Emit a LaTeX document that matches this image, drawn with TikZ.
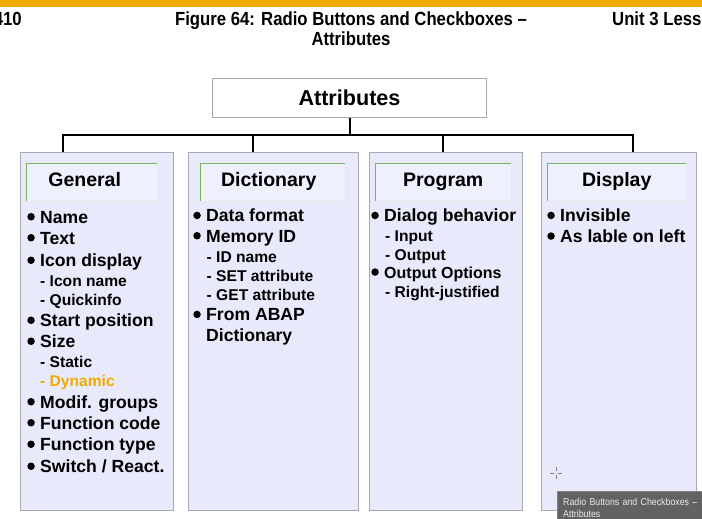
\documentclass[tikz,border=0pt]{standalone}
\usepackage{fontspec}
\setmainfont{Liberation Sans}
\newfontfamily\headfont[FakeStretch=0.88]{Liberation Sans}
\usetikzlibrary{positioning,calc}
\definecolor{SapGold}{RGB}{240,171,0}
\definecolor{PaleLilac}{RGB}{232,234,251}
\definecolor{HeadLilac}{RGB}{238,240,253}
\definecolor{FrameGray}{RGB}{168,168,176}
\definecolor{TabGreen}{RGB}{122,178,96}
\definecolor{TipGray}{RGB}{98,98,98}
\tikzset{
  column/.style={draw=FrameGray,fill=PaleLilac,line width=1pt,anchor=north west,
    minimum height=358pt,inner sep=0pt},
  tab/.style={fill=HeadLilac,anchor=north west,minimum height=38pt,inner sep=0pt},
  tabtext/.style={anchor=base,inner sep=0pt,font=\bfseries\fontsize{19.5}{22}\selectfont},
  dot/.style={circle,fill=black,inner sep=0pt,text height=0pt,text depth=0pt,
    minimum size=7.5pt},
  entry/.style={anchor=base west,inner sep=0pt,font=\bfseries\fontsize{17.6}{20}\selectfont},
  item/.style={entry,text height=12.5pt,text depth=0pt,
    label={[dot,label distance=5pt]left:{}}},
  subitem/.style={anchor=base west,inner sep=0pt,font=\bfseries\fontsize{15.6}{18}\selectfont},
  hdr/.style={inner sep=0pt,font=\headfont\bfseries\fontsize{19}{22}\selectfont},
  tip/.style={fill=TipGray,draw=gray,anchor=north west,align=left,text=white!92!black,
    font=\headfont\fontsize{10}{12}\selectfont,inner xsep=6pt,inner ysep=5pt,
    text width=138pt,minimum height=34pt},
  link/.style={line width=2pt,black}
}

\begin{document}
\begin{tikzpicture}[x=1pt,y=-1pt]
  \useasboundingbox (0,0) rectangle (702,519);
  \clip (0,0) rectangle (702,519);
  \fill[white] (0,0) rectangle (702,519);

  % page header
  \fill[SapGold] (0,0) rectangle (702,7);
  \node[hdr,anchor=base east] (pageNo) at (22,26) {410};
  \node[hdr,anchor=base] (figTitle) at (351,26) {Figure 64: Radio Buttons and Checkboxes –};
  \node[hdr,anchor=base] (figSub) at (351,46) {Attributes};
  \node[hdr,anchor=base west] (unitNo) at (612,26) {Unit 3 Lesson};

  % root box
  \node[draw=FrameGray,line width=1pt,fill=white,anchor=north west,minimum width=274pt,
        minimum height=39pt,font=\bfseries\fontsize{21.6}{24}\selectfont] (attr) at (212,78) {Attributes};

  % columns
  \node[column,minimum width=153pt] (gen) at (20,152) {};
  \node[column,minimum width=170pt] (dic) at (188,152) {};
  \node[column,minimum width=153pt] (pro) at (369,152) {};
  \node[column,minimum width=155pt] (dis) at (541,152) {};

  \node[tab,minimum width=131pt] (genTab) at (26,163) {};
  \node[tab,minimum width=145pt] (dicTab) at (200,163) {};
  \node[tab,minimum width=136pt] (proTab) at (375,163) {};
  \node[tab,minimum width=139pt] (disTab) at (547,163) {};
  \foreach \t in {genTab,dicTab,proTab,disTab} {
    \draw[TabGreen,line width=1pt] (\t.south west) -- (\t.north west) -- (\t.north east);
    \draw[white!75!FrameGray] (\t.north east) -- (\t.south east) -- (\t.south west);
  }
  \node[tabtext] (genLbl) at ([xshift=-7pt,yshift=15pt]genTab.south) {General};
  \node[tabtext] (dicLbl) at ([xshift=-4pt,yshift=15pt]dicTab.south) {Dictionary};
  \node[tabtext] (proLbl) at ([yshift=15pt]proTab.south) {Program};
  \node[tabtext] (disLbl) at ([yshift=15pt]disTab.south) {Display};

  % tree lines
  \coordinate (busL) at (63,135);
  \coordinate (busB) at (253,135);
  \coordinate (busC) at (443,135);
  \coordinate (busR) at (633,135);
  \draw[link] (attr.south) -- (attr.south |- busL);
  \draw[link] (busL |- gen.north) -- (busL) -- (busR) -- (busR |- dis.north);
  \draw[link] (busB) -- (busB |- dic.north);
  \draw[link] (busC) -- (busC |- pro.north);

  % General
  \node[item] (g1) at (40,223) {Name};
  \node[item] (g2) at (40,244) {Text};
  \node[item] (g3) at (40,266.5) {Icon display};
  \node[subitem] (g4) at (40,286) {- Icon name};
  \node[subitem] (g5) at (40,305) {- Quickinfo};
  \node[item] (g6) at (40,326.5) {Start position};
  \node[item] (g7) at (40,347.5) {Size};
  \node[subitem] (g8) at (40,367) {- Static};
  \node[subitem,text=SapGold] (g9) at (40,386.5) {- Dynamic};
  \node[item] (g10) at (40,408) {Modif. groups};
  \node[item] (g11) at (40,429) {Function code};
  \node[item] (g12) at (40,450.5) {Function type};
  \node[item] (g13) at (40,472.5) {Switch / React.};

  % Dictionary
  \node[item] (d1) at (206,221.7) {Data format};
  \node[item] (d2) at (206,242) {Memory ID};
  \node[subitem] (d3) at (206.5,262.7) {- ID name};
  \node[subitem] (d4) at (206.5,281) {- SET attribute};
  \node[subitem] (d5) at (206.5,300) {- GET attribute};
  \node[item] (d6) at (206,320.7) {From ABAP};
  \node[entry] (d7) at (206,341.7) {Dictionary};

  % Program
  \node[item] (p1) at (384,221.7) {Dialog behavior};
  \node[subitem] (p2) at (385,241) {- Input};
  \node[subitem] (p3) at (385,260) {- Output};
  \node[item,font=\bfseries\fontsize{16}{18}\selectfont] (p4) at (384,278.3) {Output Options};
  \node[subitem] (p5) at (385,297.3) {- Right-justified};

  % Display
  \node[item] (s1) at (560,221.7) {Invisible};
  \node[item] (s2) at (560,242.3) {As lable on left};

  % screen overlay
  \draw[gray,line width=1pt] (550,473) -- (554,473) (558,473) -- (562,473)
    (556,467) -- (556,471) (556,475) -- (556,479);
  \node[tip] (tipBox) at (557,491) {Radio Buttons and Checkboxes –\\Attributes};
\end{tikzpicture}
\end{document}
